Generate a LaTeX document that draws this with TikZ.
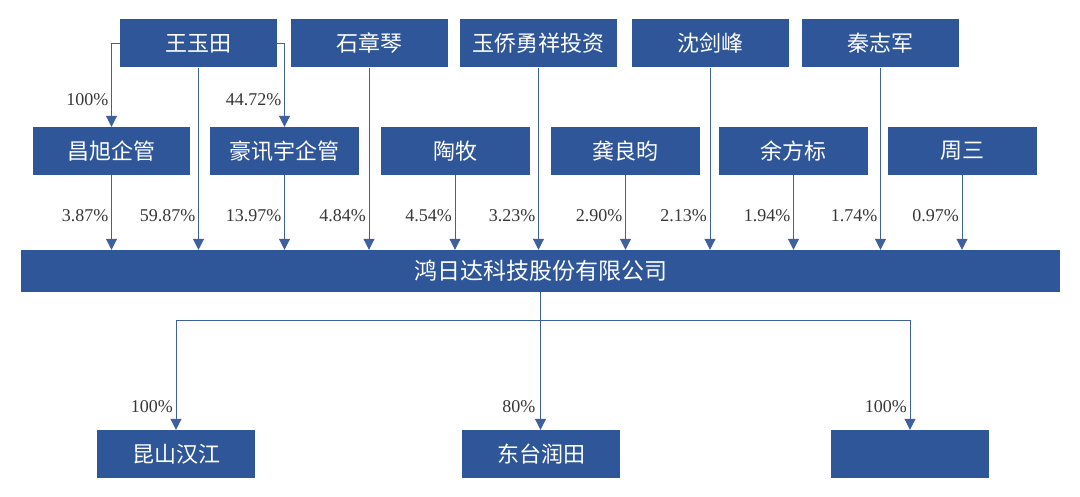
\documentclass[tikz,border=0pt]{standalone}
\usepackage{fontspec}
\setmainfont{Liberation Serif}
\newfontfamily\cjk{Noto Sans CJK SC}
\usetikzlibrary{arrows.meta}
\definecolor{boxblue}{RGB}{47,86,153}
\definecolor{lineblue}{RGB}{62,96,156}
\definecolor{pctgray}{RGB}{55,55,55}
\tikzset{
  box/.style={rectangle, fill=boxblue, text=white, minimum width=149pt, minimum height=48pt, inner sep=0pt, font=\cjk\fontsize{22}{24}\selectfont},
  arr/.style={draw=lineblue, line width=1pt, -{Triangle[width=11pt,length=11pt]}},
  pct/.style={anchor=east, inner sep=1pt, text=pctgray, font=\fontsize{18}{20}\selectfont},
}

\begin{document}
\begin{tikzpicture}[x=1pt, y=-1pt]
\useasboundingbox (0,0) rectangle (1080,497);

% shareholders, top row
\node[box, minimum width=157pt] (wang) at (198.5,43.5) {王玉田};
\node[box, minimum width=157pt] (shi) at (369,43.5) {石章琴};
\node[box, minimum width=157pt] (yuqiao) at (538.5,43.5) {玉侨勇祥投资};
\node[box, minimum width=157pt] (shen) at (710,43.5) {沈剑峰};
\node[box, minimum width=157pt] (qin) at (880.5,43.5) {秦志军};

% shareholders, middle row
\node[box, minimum width=157pt] (changxu) at (111.5,151) {昌旭企管};
\node[box] (haoxun) at (284.5,151) {豪讯宇企管};
\node[box] (taomu) at (455,151) {陶牧};
\node[box] (gong) at (625.5,151) {龚良昀};
\node[box] (yu) at (793.5,151) {余方标};
\node[box] (zhou) at (962,151) {周三};

% company
\node[box, minimum width=1039pt, minimum height=42pt, font=\cjk\fontsize{23}{25}\selectfont] (main) at (540.5,271) {鸿日达科技股份有限公司};

% subsidiaries
\node[box, minimum width=158pt] (kunshan) at (176,454) {昆山汉江};
\node[box, minimum width=158pt] (dongtai) at (541,454) {东台润田};
\node[box, minimum width=158pt] (sub3) at (910,454) {};

% wang -> holding firms
\draw[arr] (wang.west) -| (changxu.north);
\draw[arr] (wang.east) -| (haoxun.north);
\node[pct, xshift=-2pt, yshift=27pt] (p-cx) at (changxu.north) {100\%};
\node[pct, xshift=-2pt, yshift=27pt] (p-hx) at (haoxun.north) {44.72\%};

% holdings in the company
\coordinate (pctrow) at (0,216);
\foreach \src/\val in {changxu/3.87, wang/59.87, haoxun/13.97, shi/4.84, taomu/4.54, yuqiao/3.23, gong/2.90, shen/2.13, yu/1.94, qin/1.74, zhou/0.97}{
  \draw[arr] (\src.south) -- (\src.south |- main.north);
  \node[pct, xshift=-2pt] (p-\src) at (\src.south |- pctrow) {\val\%};
}

% company -> subsidiaries
\coordinate (split) at (540.5,321);
\draw[arr] (main.south) -- (main.south |- dongtai.north);
\draw[arr] (split) -| (kunshan.north);
\draw[arr] (split) -| (sub3.north);
\node[pct, xshift=-2pt, yshift=23pt] (p-ks) at (kunshan.north) {100\%};
\node[pct, xshift=-4pt, yshift=23pt] (p-dt) at (main.south |- dongtai.north) {80\%};
\node[pct, xshift=-2pt, yshift=23pt] (p-s3) at (sub3.north) {100\%};
\end{tikzpicture}
\end{document}
